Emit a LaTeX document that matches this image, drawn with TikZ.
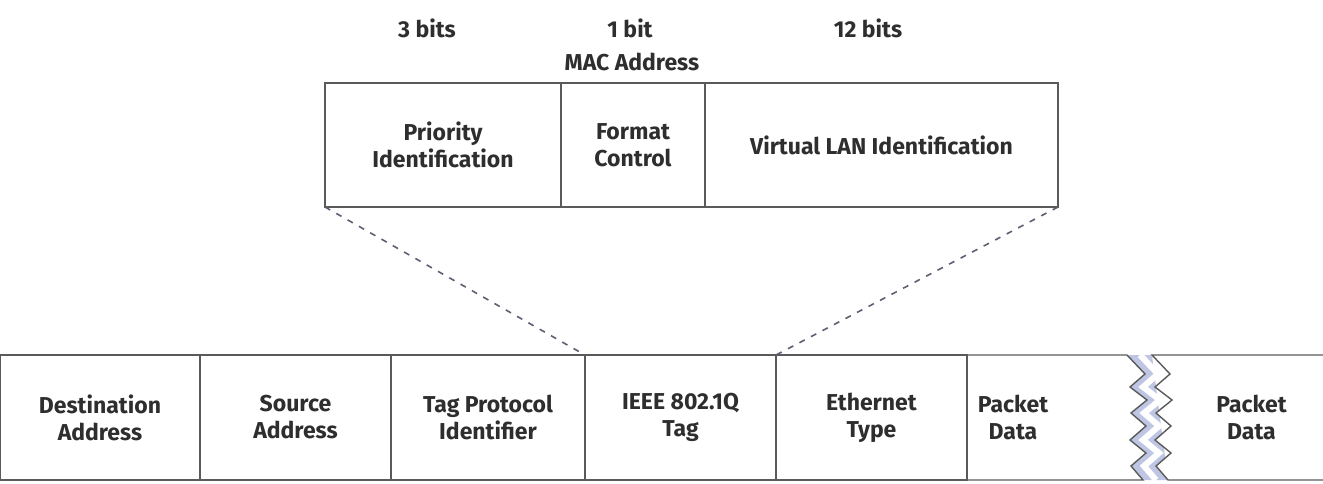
\documentclass[tikz,border=0pt]{standalone}
\usepackage{fontspec}
\setsansfont{Fira Sans}
\usetikzlibrary{positioning}
\definecolor{framegray}{HTML}{5A5A5A}
\definecolor{dashblue}{HTML}{5C6070}
\definecolor{breakblue}{HTML}{B4BCDF}
\definecolor{textgray}{HTML}{2E2E2E}
% one zigzag edge of the cut, 125 units tall
\newcommand{\cutzig}{-- ++(18,19) -- ++(-15,13) -- ++(17,13) -- ++(-16,13)
  -- ++(15,13) -- ++(-16,14) -- ++(16,13) -- ++(-15,13) -- ++(12,14)}

\begin{document}
\begin{tikzpicture}[
    x=0.5pt, y=-0.5pt,
    every node/.style={font=\sffamily\bfseries\fontsize{11.5}{13.5}\selectfont, text=textgray},
    field/.style={
      rectangle, draw=framegray, line width=0.7pt, outer sep=0pt, inner sep=0pt,
      minimum height=62.5pt, align=center, anchor=north west
    },
    subfield/.style={field, minimum height=62pt},
    openfield/.style={field, draw=none},
    zoomline/.style={dashblue, line width=0.8pt, dash pattern=on 3pt off 3.5pt},
    zig/.style={framegray, line width=0.7pt},
  ]
  \useasboundingbox (0,0) rectangle (1323,483);

  % frame fields
  \node[field, minimum width=100pt] (dest) at (0,355) {Destination\\Address};
  \node[field, minimum width=95.5pt, right=0pt of dest] (src) {Source\\Address};
  \node[field, minimum width=97pt, right=0pt of src] (tpi) {Tag Protocol\\Identifier};
  \node[field, minimum width=95.5pt, right=0pt of tpi] (tag) {IEEE 802.1Q\\Tag};
  \node[field, minimum width=95.5pt, right=0pt of tag] (eth) {Ethernet\\Type};
  \node[openfield, minimum width=46pt, right=0pt of eth] (pd1) {Packet\\Data};
  \node[openfield, minimum width=71.5pt, anchor=north east] (pd2) at (1323,355) {Packet\\Data};

  % tag fields
  \node[subfield, minimum width=118pt] (prio) at (325,83) {Priority\\Identification};
  \node[subfield, minimum width=72pt, right=0pt of prio] (fmt) {Format\\Control};
  \node[subfield, minimum width=176.5pt, right=0pt of fmt] (vlan) {Virtual LAN Identification};

  \node (b3)  at (427,28) {3 bits};
  \node (b1)  at (630,28) {1 bit};
  \node (b12) at (868,28) {12 bits};
  \node (mac) at (632,62) {MAC Address};

  \draw[zoomline] (prio.south west) -- (tag.north west);
  \draw[zoomline] (vlan.south east) -- (eth.north west);

  % the break in the packet data
  \coordinate (cutl) at (1127,355);
  \coordinate (cutm) at (1140,355);
  \coordinate (cutr) at (1152,355);
  \fill[breakblue!85] (cutl) \cutzig -- ++(25,0) -- (cutr) -- cycle;
  \fill[white] (cutr) \cutzig -- (1200,480) -- (1200,355) -- cycle;
  \draw[white, line width=3pt] (cutm) \cutzig;
  \draw[zig] (pd1.north west) -- (cutl) \cutzig -- (pd1.south west);
  \draw[zig] (pd2.north east) -- (cutr) \cutzig -- (pd2.south east);

\end{tikzpicture}
\end{document}
